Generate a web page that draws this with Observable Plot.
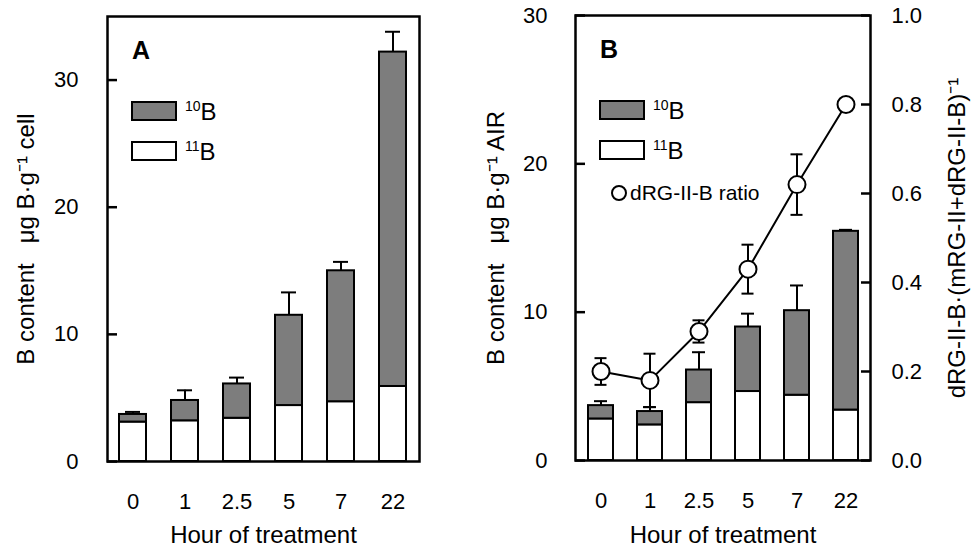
<!DOCTYPE html>
<html><head><meta charset="utf-8">
<script src="https://cdn.jsdelivr.net/npm/d3@7"></script>
<script src="https://cdn.jsdelivr.net/npm/@observablehq/plot@0.6"></script>
<style>
body{margin:0;background:#fff;}
#wrap{position:relative;width:972px;height:549px;overflow:hidden;}
#a{position:absolute;left:0;top:0;}
#b{position:absolute;left:460px;top:0;}
</style></head><body><div id="wrap"><div id="a"></div><div id="b"></div></div>
<script>
// ---- data ----
const hours = ["0", "1", "2.5", "5", "7", "22"];
// Panel A (µg B·g-1 cell)
const a11B = [3.1, 3.2, 3.4, 4.4, 4.7, 5.9];
const aTotal = [3.7, 4.8, 6.1, 11.5, 15.0, 32.2];
const aErrTop = [3.9, 5.6, 6.6, 13.3, 15.7, 33.8];
// Panel B (µg B·g-1 AIR)
const b11B = [2.8, 2.4, 3.9, 4.65, 4.4, 3.4];
const bTotal = [3.7, 3.3, 6.1, 9.0, 10.1, 15.45];
const bErrTop = [4.0, 3.6, 7.3, 9.9, 11.8, 15.55];
// dRG-II-B ratio (right axis)
const ratio = [0.20, 0.18, 0.29, 0.43, 0.62, 0.80];
const ratioErr = [0.03, 0.06, 0.025, 0.055, 0.068, 0];
const leftTicks = [0, 10, 20, 30];
const rightTicks = [0, 0.2, 0.4, 0.6, 0.8, 1.0];
const titleA = "B content\u00a0\u00a0\u00a0μg B·g⁻¹ cell";
const titleB = "B content\u00a0\u00a0\u00a0μg B·g⁻¹ AIR";
const titleR = "dRG-II-B·(mRG-II+dRG-II-B)⁻¹";
const titleX = "Hour of treatment";

const FONT = "Liberation Sans, Arial, Helvetica, sans-serif";
const GRAY = "#7d7d7d";
const RSCALE = 30; // right axis 0..1 maps onto left 0..30
const FS = 22;
const TS = 24;

const tableA = hours.map((h, i) => ({h, w: a11B[i], t: aTotal[i], e: aErrTop[i]}));
const tableB = hours.map((h, i) => ({h, w: b11B[i], t: bTotal[i], e: bErrTop[i],
  r: ratio[i] * RSCALE, rlo: (ratio[i] - ratioErr[i]) * RSCALE, rhi: (ratio[i] + ratioErr[i]) * RSCALE, re: ratioErr[i]}));

function legendMark(letter, withRatio) {
  return (index, scales, values, dims) => {
    const g = d3.create("svg:g").attr("font-family", FONT).attr("fill", "black").attr("text-anchor", "start");
    const x0 = dims.marginLeft;
    const y0 = dims.marginTop;
    g.append("text").attr("x", x0 + 25).attr("y", y0 + 43).attr("font-size", 25)
      .attr("font-weight", "bold").text(letter);
    const items = [{fill: GRAY, sup: "10"}, {fill: "white", sup: "11"}];
    items.forEach((it, k) => {
      const yy = y0 + 86 + k * 40;
      g.append("rect").attr("x", x0 + 25).attr("y", yy).attr("width", 44).attr("height", 18)
        .attr("fill", it.fill).attr("stroke", "black").attr("stroke-width", 2);
      const t = g.append("text").attr("x", x0 + 78).attr("y", yy + 18);
      t.append("tspan").attr("font-size", 14).attr("dy", -9).text(it.sup);
      t.append("tspan").attr("font-size", 24).attr("dy", 9).text("B");
    });
    if (withRatio) {
      const yy = y0 + 178;
      g.append("circle").attr("cx", x0 + 44).attr("cy", yy).attr("r", 7)
        .attr("fill", "white").attr("stroke", "black").attr("stroke-width", 2);
      g.append("text").attr("x", x0 + 55).attr("y", yy + 7).attr("font-size", 21).text("dRG-II-B ratio");
    }
    return g.node();
  };
}

const common = {
  height: 549,
  style: {fontFamily: FONT, fontSize: FS + "px", color: "black", background: "white"},
};

const A_W = 460, A_ML = 107, A_MR = 41;
const B_W = 512, B_ML = 115, B_MR = 102;
const aInner = A_W - A_ML - A_MR;
const bInner = B_W - B_ML - B_MR;

const plotA = Plot.plot({
  ...common,
  width: A_W,
  marginLeft: A_ML, marginRight: A_MR, marginTop: 16, marginBottom: 88,
  x: {domain: hours, paddingInner: 0.48, paddingOuter: 0.24},
  y: {domain: [0, 35]},
  marks: [
    Plot.barY(tableA, {x: "h", y1: 0, y2: "w", fill: "white", stroke: "black", strokeWidth: 2}),
    Plot.barY(tableA, {x: "h", y1: "w", y2: "t", fill: GRAY, stroke: "black", strokeWidth: 2}),
    Plot.ruleX(tableA, {x: "h", y1: "t", y2: "e", stroke: "black", strokeWidth: 2}),
    Plot.tickY(tableA, {x: "h", y: "e", stroke: "black", strokeWidth: 2, insetLeft: 6, insetRight: 6}),
    Plot.frame({stroke: "black", strokeWidth: 2.5}),
    Plot.ruleY(leftTicks, {y: d => d, insetRight: aInner - 10, stroke: "black", strokeWidth: 2.5}),
    Plot.axisY({ticks: leftTicks, tickSize: 0, tickPadding: 29, fontSize: FS, label: null}),
    Plot.axisX({tickSize: 0, tickPadding: 32, fontSize: FS, label: null}),
    Plot.text([titleA], {frameAnchor: "left", rotate: -90, dx: -81, fontSize: TS, lineAnchor: "middle", textAnchor: "middle"}),
    Plot.text([titleX], {frameAnchor: "bottom", dy: 74, fontSize: TS, lineAnchor: "middle", textAnchor: "middle"}),
    legendMark("A", false)
  ]
});

const plotB = Plot.plot({
  ...common,
  width: B_W,
  marginLeft: B_ML, marginRight: B_MR, marginTop: 15, marginBottom: 89,
  x: {domain: hours, paddingInner: 0.49, paddingOuter: 0.245},
  y: {domain: [0, 30]},
  marks: [
    Plot.barY(tableB, {x: "h", y1: 0, y2: "w", fill: "white", stroke: "black", strokeWidth: 2}),
    Plot.barY(tableB, {x: "h", y1: "w", y2: "t", fill: GRAY, stroke: "black", strokeWidth: 2}),
    Plot.ruleX(tableB, {x: "h", y1: "t", y2: "e", stroke: "black", strokeWidth: 2}),
    Plot.tickY(tableB, {x: "h", y: "e", stroke: "black", strokeWidth: 2, insetLeft: 6, insetRight: 6}),
    Plot.ruleX(tableB.filter(d => d.re > 0), {x: "h", y1: "rlo", y2: "rhi", stroke: "black", strokeWidth: 2}),
    Plot.tickY(tableB.filter(d => d.re > 0), {x: "h", y: "rlo", stroke: "black", strokeWidth: 2, insetLeft: 6.5, insetRight: 6.5}),
    Plot.tickY(tableB.filter(d => d.re > 0), {x: "h", y: "rhi", stroke: "black", strokeWidth: 2, insetLeft: 6.5, insetRight: 6.5}),
    Plot.line(tableB, {x: "h", y: "r", stroke: "black", strokeWidth: 2}),
    Plot.dot(tableB, {x: "h", y: "r", r: 8.5, fill: "white", stroke: "black", strokeWidth: 2}),
    Plot.frame({stroke: "black", strokeWidth: 2.5}),
    Plot.ruleY(leftTicks, {y: d => d, insetRight: bInner - 10, stroke: "black", strokeWidth: 2.5}),
    Plot.ruleY(rightTicks.map(t => t * RSCALE), {y: d => d, insetLeft: bInner - 9, stroke: "black", strokeWidth: 2.5}),
    Plot.axisY({ticks: leftTicks, tickSize: 0, tickPadding: 28, fontSize: FS, label: null}),
    Plot.axisY({anchor: "right", ticks: rightTicks.map(t => t * RSCALE), tickFormat: d => (d / RSCALE).toFixed(1),
      tickSize: 0, tickPadding: 21, fontSize: FS, label: null}),
    Plot.axisX({tickSize: 0, tickPadding: 32, fontSize: FS, label: null}),
    Plot.text([titleB], {frameAnchor: "left", rotate: -90, dx: -79, fontSize: TS, lineAnchor: "middle", textAnchor: "middle"}),
    Plot.text([titleR], {frameAnchor: "right", rotate: -90, dx: 87, fontSize: TS, lineAnchor: "middle", textAnchor: "middle"}),
    Plot.text([titleX], {frameAnchor: "bottom", dy: 75, fontSize: TS, lineAnchor: "middle", textAnchor: "middle"}),
    legendMark("B", true)
  ]
});

document.getElementById("a").appendChild(plotA);
document.getElementById("b").appendChild(plotB);
</script></body></html>
